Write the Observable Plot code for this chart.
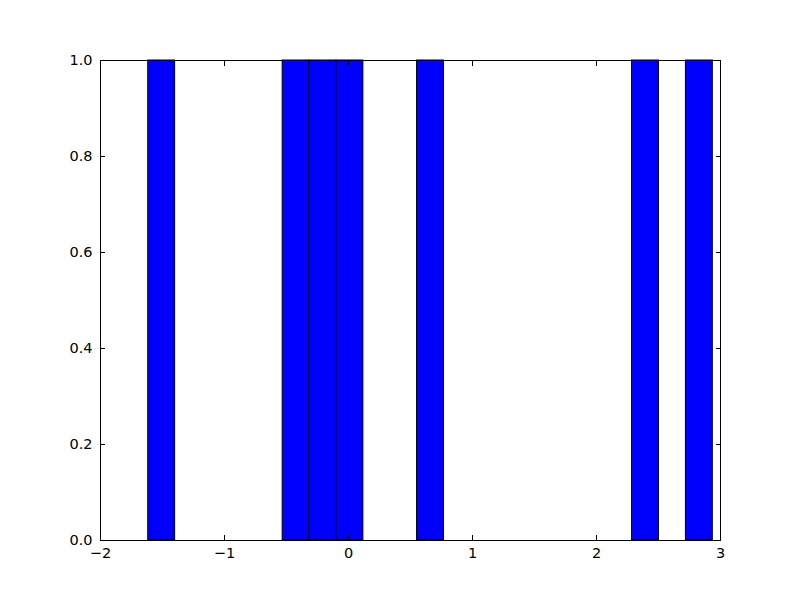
<!DOCTYPE html>
<html>
<head>
<meta charset="utf-8">
<script src="https://cdn.jsdelivr.net/npm/d3@7"></script>
<script src="https://cdn.jsdelivr.net/npm/@observablehq/plot@0.6"></script>
<style>
  html, body { margin: 0; padding: 0; background: #ffffff; }
  svg text { font-family: "DejaVu Sans", sans-serif !important; font-size: 14.5px !important; fill: #000000; }
</style>
</head>
<body>
<script>
// Histogram bins (left edge, right edge) and counts
const binLeft  = [-1.615, -0.531, -0.314, -0.097, 0.553, 2.287, 2.721];
const binRight = [-1.398, -0.314, -0.097,  0.120, 0.770, 2.504, 2.938];
const counts   = [1, 1, 1, 1, 1, 1, 1];

const xTicks = [-2, -1, 0, 1, 2, 3];
const yTicks = [0, 0.2, 0.4, 0.6, 0.8, 1.0];

const bars = binLeft.map((l, i) => ({x1: l, x2: binRight[i], y: counts[i]}));

const chart = Plot.plot({
  width: 800,
  height: 600,
  marginLeft: 100,
  marginRight: 80,
  marginTop: 60,
  marginBottom: 60,
  style: {fontFamily: "DejaVu Sans", fontSize: "14.5px", color: "black", background: "white"},
  x: {domain: [-2, 3]},
  y: {domain: [0, 1]},
  marks: [
    Plot.rectY(bars, {x1: "x1", x2: "x2", y1: 0, y2: "y", fill: "#0000ff", stroke: "black", strokeWidth: 1, inset: 0}),
    Plot.axisX(xTicks, {anchor: "bottom", tickSize: -5, text: null, label: null, stroke: "black"}),
    Plot.axisX(xTicks, {anchor: "top", tickSize: -5, text: null, label: null, stroke: "black"}),
    Plot.axisX(xTicks, {anchor: "bottom", tickSize: 0, tickPadding: 7, label: null, fontSize: 14.5, tickFormat: d3.format("d"), fill: "black"}),
    Plot.axisY(yTicks, {anchor: "left", tickSize: -5, text: null, label: null, stroke: "black"}),
    Plot.axisY(yTicks, {anchor: "right", tickSize: -5, text: null, label: null, stroke: "black"}),
    Plot.axisY(yTicks, {anchor: "left", tickSize: 0, tickPadding: 8, label: null, fontSize: 14.5, tickFormat: d3.format(".1f"), fill: "black"}),
    Plot.frame({stroke: "black", strokeWidth: 1})
  ]
});
document.body.appendChild(chart);
</script>
</body>
</html>
